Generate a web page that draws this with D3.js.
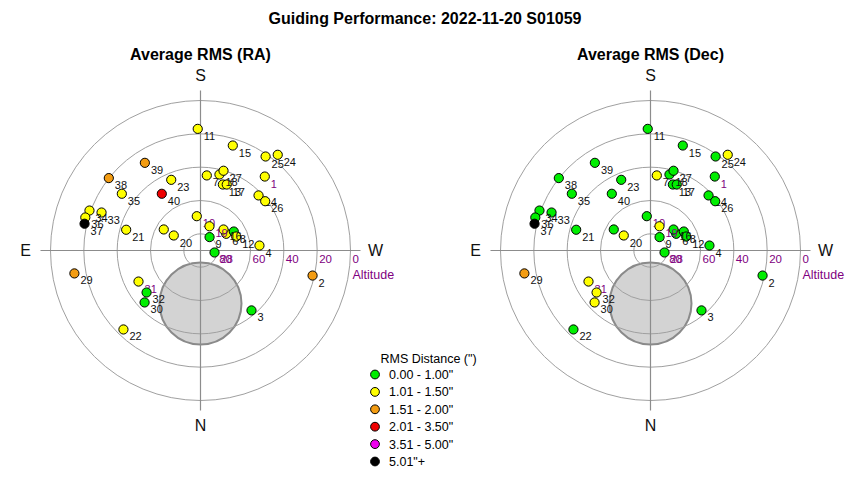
<!DOCTYPE html>
<html>
<head>
<meta charset="utf-8">
<script src="https://cdn.jsdelivr.net/npm/d3@7"></script>
<style>
html,body{margin:0;padding:0;background:#fff;}
svg{display:block;font-family:"Liberation Sans",Arial,sans-serif;}
</style>
</head>
<body>
<svg id="chart" width="850" height="480"></svg>
<script>
// ---------------- DATA ----------------
const chartTitle = "Guiding Performance: 2022-11-20 S01059";
const panelTitles = ["Average RMS (RA)", "Average RMS (Dec)"];
const frameIds = [1,2,3,4,5,6,7,8,9,10,11,12,13,14,15,16,17,18,19,20,
                  21,22,23,24,25,26,27,28,29,30,31,32,33,34,35,36,37,38,39,40];
// azimuth (deg, N=0, E=90, S=180, W=270) and altitude (deg)
const azimuth = [221.0,282.6,319.6,265.2,119.8,237.0,184.8,240.3,214.1,173.8,
                 178.7,248.6,198.7,226.5,197.1,227.6,201.7,194.0,200.3,119.3,
                 105.6,44.3,157.5,218.9,214.7,232.7,196.1,278.1,79.7,47.1,
                 63.4,52.1,111.0,109.8,125.8,106.0,103.0,128.3,147.6,145.7];
const altitude = [31.2,21.1,42.8,54.5,64.6,71.6,44.8,67.0,80.3,69.3,
                  17.0,67.0,48.2,42.0,24.1,71.3,47.4,43.0,74.5,71.6,
                  43.7,23.8,44.1,16.2,21.4,41.2,40.2,81.5,13.1,44.2,
                  48.4,49.0,26.4,19.2,31.8,18.1,18.6,19.9,27.7,48.8];
const rmsRA  = [1.22,1.68,0.84,1.18,1.09,1.14,1.31,0.93,0.88,1.06,
                1.27,1.12,1.19,1.24,1.36,1.08,1.21,1.16,1.03,1.11,
                1.29,1.41,1.33,1.38,1.26,1.17,1.23,0.91,1.74,0.97,
                1.15,0.95,1.32,1.28,1.44,1.35,5.62,1.81,1.63,2.37];
const rmsDec = [0.71,0.82,0.66,0.74,0.69,0.58,1.12,0.63,0.55,0.77,
                0.86,0.61,0.68,0.72,0.79,0.64,0.67,0.73,1.04,1.07,
                0.81,0.88,0.76,1.09,0.84,0.70,0.75,0.52,1.58,1.13,
                1.21,1.06,0.83,0.90,0.78,0.87,5.34,0.94,0.92,0.85];
const ringAltitudes = [80,60,40,20,0];
const altTickLabels = ["80","60","40","20","0"];
const compassLabels = ["S","E","N","W"];
const compassAz = [180,90,0,270];
// shaded exclusion zone (az, alt, angular radius in deg)
const zoneAz = 0, zoneAlt = 58.2, zoneRadius = 24.6;
const legendTitle = "RMS Distance (\")";
const legendLabels = ["0.00 - 1.00\"","1.01 - 1.50\"","1.51 - 2.00\"","2.01 - 3.50\"","3.51 - 5.00\"","5.01\"+"];
const binEdges = [1.005,1.505,2.005,3.505,5.005];
const binColors = ["#00ee00","#ffff00","#f39c12","#ee0000","#ee00ee","#000000"];

// ---------------- DRAW ----------------
const svg = d3.select("#chart");
const R = 150;
const rScale = d3.scaleLinear().domain([90,0]).range([0,R]);
const color = d3.scaleThreshold().domain(binEdges).range(binColors);
const purpleLabels = new Set([1,10,19,28,31]);
const toRad = Math.PI/180;
function proj(az, alt){
  const r = rScale(alt), a = az*toRad;
  return [-r*Math.sin(a), r*Math.cos(a)];
}

svg.append("text").attr("x",425).attr("y",24).attr("text-anchor","middle")
  .attr("font-size",16).attr("font-weight","bold").text(chartTitle);

const centers = [[200.5,250.5],[650.5,250.5]];
const series = [rmsRA, rmsDec];

centers.forEach((c,pi)=>{
  const g = svg.append("g").attr("transform",`translate(${c[0]},${c[1]})`);
  svg.append("text").attr("x",c[0]).attr("y",60).attr("text-anchor","middle")
    .attr("font-size",16).attr("font-weight","bold").text(panelTitles[pi]);

  // shaded zone
  const zc = proj(zoneAz, zoneAlt);
  g.append("circle").attr("cx",zc[0]).attr("cy",zc[1])
    .attr("r", rScale(90-zoneRadius))
    .attr("fill","#d3d3d3").attr("stroke","#8a8a8a").attr("stroke-width",2);

  // rings
  g.selectAll("circle.ring").data(ringAltitudes).join("circle")
    .attr("class","ring").attr("r",d=>rScale(d))
    .attr("fill","none").attr("stroke","#a0a0a0").attr("stroke-width",1);

  // axes
  const L = 160;
  g.append("line").attr("x1",-L).attr("x2",L).attr("y1",0).attr("y2",0)
    .attr("stroke","#8c8c8c").attr("stroke-width",1.2);
  g.append("line").attr("y1",-L).attr("y2",L).attr("x1",0).attr("x2",0)
    .attr("stroke","#8c8c8c").attr("stroke-width",1.2);

  // compass
  compassLabels.forEach((t,i)=>{
    const a = compassAz[i]*toRad, d = 175;
    g.append("text").attr("x",-d*Math.sin(a)).attr("y",d*Math.cos(a))
      .attr("text-anchor","middle").attr("dominant-baseline","central")
      .attr("font-size",16).attr("fill","#111").text(t);
  });

  // altitude tick labels
  g.selectAll("text.tick").data(ringAltitudes).join("text")
    .attr("class","tick").attr("x",d=>rScale(d)+2).attr("y",12)
    .attr("font-size",11.5).attr("fill","#800080").text((d,i)=>altTickLabels[i]);
  g.append("text").attr("x",R+2).attr("y",28).attr("font-size",12.5)
    .attr("fill","#800080").text("Altitude");

  // points + labels
  const vals = series[pi];
  frameIds.forEach((id,i)=>{
    const p = proj(azimuth[i], altitude[i]);
    g.append("text").attr("x",p[0]+6).attr("y",p[1]+11).attr("font-size",11)
      .attr("fill", purpleLabels.has(id) ? "#800080" : "#111").text(id);
    g.append("circle").attr("cx",p[0]).attr("cy",p[1]).attr("r",4.6)
      .attr("fill",color(vals[i])).attr("stroke","#000").attr("stroke-width",1);
  });
});

// legend
const lg = svg.append("g");
lg.append("text").attr("x",380.5).attr("y",363).attr("font-size",12.5).text(legendTitle);
legendLabels.forEach((t,i)=>{
  const y = 374.5 + i*17.4;
  lg.append("circle").attr("cx",375).attr("cy",y).attr("r",4.4)
    .attr("fill",binColors[i]).attr("stroke","#000").attr("stroke-width",1);
  lg.append("text").attr("x",389).attr("y",y+4.5).attr("font-size",12.5).text(t);
});
</script>
</body>
</html>
